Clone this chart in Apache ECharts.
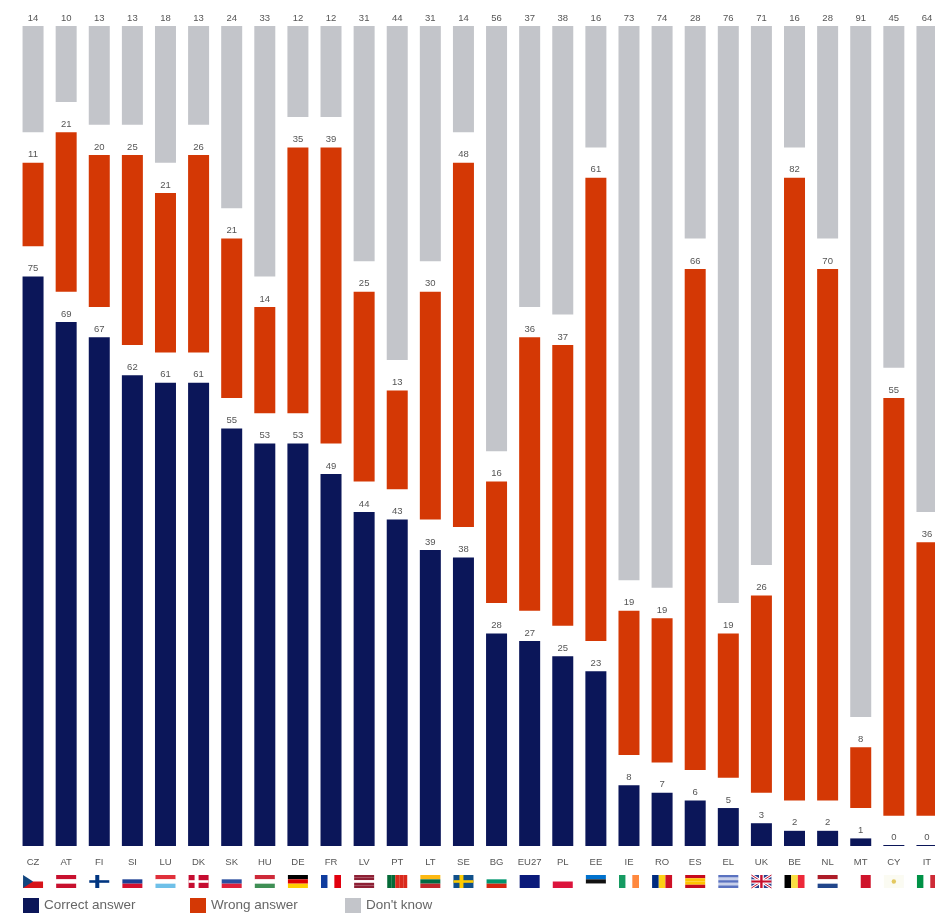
<!DOCTYPE html>
<html>
<head>
<meta charset="utf-8">
<style>html,body{margin:0;padding:0;background:#fff}#chart{width:935px;height:914px}</style>
<script src="https://cdn.jsdelivr.net/npm/echarts@6/dist/echarts.min.js"></script>
</head>
<body>
<div id="chart"></div>
<script>
// Survey results per country, as percentages
const categories = ['CZ','AT','FI','SI','LU','DK','SK','HU','DE','FR','LV','PT','LT','SE','BG','EU27','PL','EE','IE','RO','ES','EL','UK','BE','NL','MT','CY','IT'];
const correctAnswer = [75,69,67,62,61,61,55,53,53,49,44,43,39,38,28,27,25,23,8,7,6,5,3,2,2,1,0,0];
const wrongAnswer   = [11,21,20,25,21,26,21,14,35,39,25,13,30,48,16,36,37,61,19,19,66,19,26,82,70,8,55,36];
const dontKnow      = [14,10,13,13,18,13,24,33,12,12,31,44,31,14,56,37,38,16,73,74,28,76,71,16,28,91,45,64];

// White space between the stacked blocks, in axis units
const BLOCK_GAP = 4;
const spacer = categories.map(() => BLOCK_GAP);

const NAVY = '#0b1659', RED = '#d43805', GREY = '#c3c5ca', TEXT = '#555';

// Flag patterns: h = horizontal bands, v = vertical bands, n = Nordic cross
const flags = {
  CZ:{h:['#fff','#d7141a'],tri:'#11457e'}, AT:{h:['#c8102e','#fff','#c8102e']},
  FI:{n:['#fff','#003580']}, SI:{h:['#fff','#1c3f94','#d5102e']},
  LU:{h:['#e0303a','#fff','#6fc0e8']}, DK:{n:['#c60c30','#fff']},
  SK:{h:['#fff','#2a4fa0','#e0203a']}, HU:{h:['#ce2939','#fff','#3f8f55']},
  DE:{h:['#000','#d00','#ffce00']}, FR:{v:['#0f3c9e','#fff','#e1000f']},
  LV:{h:['#8e2035','#8e2035','#fff','#8e2035','#8e2035']}, PT:{v:['#046a38','#046a38','#da291c','#da291c','#da291c']},
  LT:{h:['#fdb913','#006a44','#c1272d']}, SE:{n:['#10508a','#fecc00']},
  BG:{h:['#fff','#00966e','#d62612']}, EU27:{h:['#0a1a7a']},
  PL:{h:['#fff','#dc143c']}, EE:{h:['#0072ce','#111','#fff']},
  IE:{v:['#169b62','#fff','#ff883e']}, RO:{v:['#002b7f','#fcd116','#ce1126']},
  ES:{h:['#c60b1e','#ffc400','#ffc400','#c60b1e']}, EL:{h:['#5a72c0','#c8d0ea','#5a72c0','#c8d0ea','#5a72c0']},
  UK:{uk:true}, BE:{v:['#000','#fae042','#ed2939']},
  NL:{h:['#ae1c28','#fff','#21468b']}, MT:{v:['#fff','#cf142b']},
  CY:{h:['#fbfbf2'],dot:'#e3c860'}, IT:{v:['#009246','#fff','#ce2b37']}
};

// Builds the shapes of one flag inside a box whose top-left corner is (x, y)
function flagShapes(f, x, y, w, h) {
  const out = [];
  const rect = (rx, ry, rw, rh, fill) => out.push({type:'rect', shape:{x:rx, y:ry, width:rw, height:rh}, style:{fill}});
  if (f.h) f.h.forEach((c, i) => rect(x, y + i * h / f.h.length, w, h / f.h.length, c));
  if (f.v) f.v.forEach((c, i) => rect(x + i * w / f.v.length, y, w / f.v.length, h, c));
  if (f.n) {
    rect(x, y, w, h, f.n[0]);
    rect(x + w * 0.3, y, w * 0.2, h, f.n[1]);
    rect(x, y + h * 0.4, w, h * 0.2, f.n[1]);
  }
  if (f.uk) {
    rect(x, y, w, h, '#2b3f8c');
    [[x, y, x + w, y + h], [x + w, y, x, y + h]].forEach(p => {
      out.push({type:'line', shape:{x1:p[0], y1:p[1], x2:p[2], y2:p[3]}, style:{stroke:'#fff', lineWidth:3}});
      out.push({type:'line', shape:{x1:p[0], y1:p[1], x2:p[2], y2:p[3]}, style:{stroke:'#c8102e', lineWidth:1}});
    });
    rect(x + w * 0.38, y, w * 0.24, h, '#fff');
    rect(x, y + h * 0.33, w, h * 0.34, '#fff');
    rect(x + w * 0.44, y, w * 0.12, h, '#c8102e');
    rect(x, y + h * 0.42, w, h * 0.16, '#c8102e');
  }
  if (f.tri) out.push({type:'polygon', shape:{points:[[x, y], [x + w * 0.5, y + h / 2], [x, y + h]]}, style:{fill:f.tri}});
  if (f.dot) out.push({type:'circle', shape:{cx:x + w / 2, cy:y + h / 2, r:2.2}, style:{fill:f.dot}});
  return out;
}

const valueLabel = {show:true, position:'top', distance:3, color:TEXT, fontSize:9.5, fontFamily:'Liberation Sans'};

function block(name, data, color, extra) {
  return Object.assign({
    name, type:'bar', stack:'total', data, barWidth:21, itemStyle:{color}, label:valueLabel
  }, extra);
}
function gap(name) {
  return {name, type:'bar', stack:'total', data:spacer, barWidth:21, itemStyle:{color:'transparent'}, silent:true};
}
function legendItem(name, left) {
  return {
    data:[name], left, top:898, padding:0, itemWidth:16, itemHeight:15, itemGap:6,
    icon:'rect', textStyle:{color:'#666', fontSize:13.5, fontFamily:'Liberation Sans'}
  };
}

const chart = echarts.init(document.getElementById('chart'), null, {renderer:'canvas'});
chart.setOption({
  animation:false,
  backgroundColor:'#fff',
  legend:[legendItem('Correct answer', 23), legendItem('Wrong answer', 190), legendItem("Don't know", 345)],
  grid:{left:16.5, top:26, width:927, height:820, containLabel:false, outerBoundsMode:'none'},
  xAxis:{
    type:'category', data:categories,
    axisLine:{show:false}, axisTick:{show:false},
    axisLabel:{color:TEXT, fontSize:9.5, margin:11, interval:0, fontFamily:'Liberation Sans'}
  },
  yAxis:{type:'value', min:0, max:100 + 2 * BLOCK_GAP, show:false, splitLine:{show:false}},
  series:[
    block('Correct answer', correctAnswer, NAVY, {barMinHeight:1}),
    gap('gap1'),
    block('Wrong answer', wrongAnswer, RED),
    gap('gap2'),
    block("Don't know", dontKnow, GREY),
    {
      name:'flags', type:'custom', silent:true, clip:false,
      data:categories.map((c, i) => [i, 0]),
      encode:{x:0, y:1},
      renderItem(params, api) {
        const i = api.value(0);
        const p = api.coord([i, 0]);
        return {type:'group', children:flagShapes(flags[categories[i]], p[0] - 10, p[1] + 29, 20, 13)};
      }
    }
  ]
});
</script>
</body>
</html>
